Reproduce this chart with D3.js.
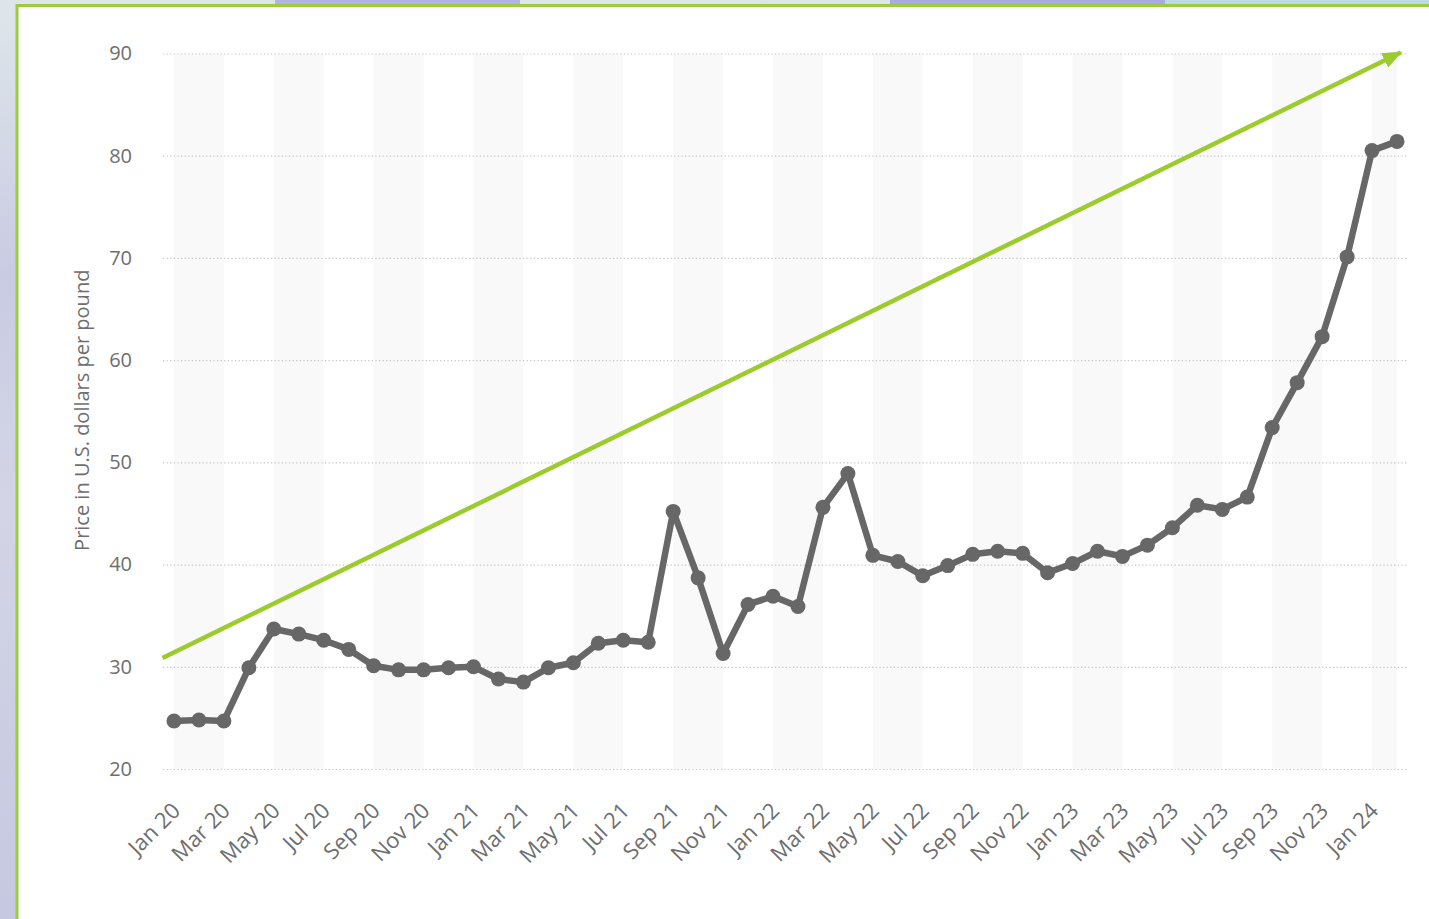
<!DOCTYPE html>
<html>
<head>
<meta charset="utf-8">
<script src="https://cdn.jsdelivr.net/npm/d3@7"></script>
<style>
  html, body { margin: 0; padding: 0; background: #fff; }
  svg { display: block; }
</style>
</head>
<body>
<div id="chart"></div>
<script>
// months shown on the x axis
const categories = [
  'Jan 20', 'Feb 20', 'Mar 20', 'Apr 20', 'May 20', 'Jun 20', 'Jul 20', 'Aug 20', 'Sep 20', 'Oct 20', 'Nov 20', 'Dec 20',
  'Jan 21', 'Feb 21', 'Mar 21', 'Apr 21', 'May 21', 'Jun 21', 'Jul 21', 'Aug 21', 'Sep 21', 'Oct 21', 'Nov 21', 'Dec 21',
  'Jan 22', 'Feb 22', 'Mar 22', 'Apr 22', 'May 22', 'Jun 22', 'Jul 22', 'Aug 22', 'Sep 22', 'Oct 22', 'Nov 22', 'Dec 22',
  'Jan 23', 'Feb 23', 'Mar 23', 'Apr 23', 'May 23', 'Jun 23', 'Jul 23', 'Aug 23', 'Sep 23', 'Oct 23', 'Nov 23', 'Dec 23',
  'Jan 24', 'Feb 24'
];

// price in U.S. dollars per pound
const prices = [
  24.7, 24.8, 24.7, 29.9, 33.7, 33.2, 32.6, 31.7, 30.1, 29.7, 29.7, 29.9,
  30.0, 28.8, 28.5, 29.9, 30.4, 32.3, 32.6, 32.4, 45.2, 38.7, 31.3, 36.1,
  36.9, 35.9, 45.6, 48.9, 40.9, 40.3, 38.9, 39.9, 41.0, 41.3, 41.1, 39.2,
  40.1, 41.3, 40.8, 41.9, 43.6, 45.8, 45.4, 46.6, 53.4, 57.8, 62.3, 70.1,
  80.5, 81.4
];

const yTicks = [20, 30, 40, 50, 60, 70, 80, 90];

// green trend arrow, start and end (category index, price)
const trendIndex = [-0.46, 49.15];
const trendValue = [30.85, 90.1];

const width = 1429;
const height = 919;
const font = '"Open Sans", sans-serif';
const textColor = '#6e6e6e';

const svg = d3.select('#chart')
  .append('svg')
  .attr('width', width)
  .attr('height', height);

// blurred page behind the card
const defs = svg.append('defs');
const bg = defs.append('linearGradient')
  .attr('id', 'bgGrad')
  .attr('x1', 0).attr('y1', 0).attr('x2', 0).attr('y2', 1);
bg.append('stop').attr('offset', '0%').attr('stop-color', '#dfe6ea');
bg.append('stop').attr('offset', '30%').attr('stop-color', '#c9cbe3');
bg.append('stop').attr('offset', '55%').attr('stop-color', '#d3d5e6');
bg.append('stop').attr('offset', '100%').attr('stop-color', '#c5c8e0');

svg.append('rect')
  .attr('width', width)
  .attr('height', height)
  .attr('fill', 'url(#bgGrad)');

svg.append('rect').attr('x', 275).attr('y', 0).attr('width', 245).attr('height', 6).attr('fill', '#b3b3e6');
svg.append('rect').attr('x', 890).attr('y', 0).attr('width', 275).attr('height', 6).attr('fill', '#a9a9e4');
svg.append('rect').attr('x', 1165).attr('y', 0).attr('width', 264).attr('height', 6).attr('fill', '#bcd9e4');

// the card
svg.append('rect')
  .attr('x', 17)
  .attr('y', 5.5)
  .attr('width', width + 10)
  .attr('height', height + 10)
  .attr('fill', '#fff')
  .attr('stroke', '#9ccb3b')
  .attr('stroke-width', 3);

const plot = { left: 163, right: 1408, top: 53.5, bottom: 769 };

const x = d3.scaleLinear()
  .domain([-0.44, categories.length - 1 + 0.44])
  .range([plot.left, plot.right]);

const y = d3.scaleLinear()
  .domain([20, 90])
  .range([plot.bottom, plot.top]);

// alternating bands, two months each
const bandStarts = d3.range(0, categories.length, 4);
svg.append('g')
  .selectAll('rect')
  .data(bandStarts)
  .join('rect')
  .attr('x', d => x(d))
  .attr('y', plot.top)
  .attr('width', d => x(Math.min(d + 2, categories.length - 1)) - x(d))
  .attr('height', plot.bottom - plot.top)
  .attr('fill', '#f9f9f9');

// y axis with dotted grid
const yAxis = svg.append('g')
  .attr('transform', `translate(${plot.left},0)`)
  .call(d3.axisLeft(y)
    .tickValues(yTicks)
    .tickSize(-(plot.right - plot.left))
    .tickPadding(31));
yAxis.select('.domain').remove();
yAxis.selectAll('.tick line')
  .attr('stroke', '#c4c4c4')
  .attr('stroke-width', 1.2)
  .attr('stroke-dasharray', '1.2,2.4');
yAxis.selectAll('.tick text')
  .attr('fill', textColor)
  .style('font-family', font)
  .style('font-size', '20px');

// x axis labels, every other month
const xAxis = svg.append('g')
  .attr('transform', `translate(0,${plot.bottom})`)
  .call(d3.axisBottom(x)
    .tickValues(d3.range(0, categories.length, 2))
    .tickFormat(i => categories[i])
    .tickSize(0));
xAxis.select('.domain').remove();
xAxis.selectAll('.tick text')
  .attr('fill', textColor)
  .style('font-family', font)
  .style('font-size', '22px')
  .attr('text-anchor', 'end')
  .attr('dy', 0)
  .attr('transform', 'translate(5,41) rotate(-45)');

// y axis title
svg.append('text')
  .attr('transform', `translate(89,${(plot.top + plot.bottom) / 2 - 1}) rotate(-90)`)
  .attr('text-anchor', 'middle')
  .attr('fill', textColor)
  .style('font-family', font)
  .style('font-size', '20px')
  .text('Price in U.S. dollars per pound');

// trend arrow
defs.append('marker')
  .attr('id', 'arrowHead')
  .attr('markerUnits', 'userSpaceOnUse')
  .attr('viewBox', '0 0 20 20')
  .attr('refX', 18)
  .attr('refY', 10)
  .attr('markerWidth', 20)
  .attr('markerHeight', 20)
  .attr('orient', 'auto')
  .append('path')
  .attr('d', 'M0,2 L20,10 L0,18 Z')
  .attr('fill', '#9ccb2d');

svg.append('line')
  .attr('x1', x(trendIndex[0]))
  .attr('y1', y(trendValue[0]))
  .attr('x2', x(trendIndex[1]))
  .attr('y2', y(trendValue[1]))
  .attr('stroke', '#9ccb2d')
  .attr('stroke-width', 4.5)
  .attr('marker-end', 'url(#arrowHead)');

// price line
const line = d3.line()
  .x((d, i) => x(i))
  .y(d => y(d));

svg.append('path')
  .datum(prices)
  .attr('d', line)
  .attr('fill', 'none')
  .attr('stroke', '#676767')
  .attr('stroke-width', 6.5)
  .attr('stroke-linejoin', 'round');

svg.append('g')
  .selectAll('circle')
  .data(prices)
  .join('circle')
  .attr('cx', (d, i) => x(i))
  .attr('cy', d => y(d))
  .attr('r', 7.5)
  .attr('fill', '#676767');
</script>
</body>
</html>
